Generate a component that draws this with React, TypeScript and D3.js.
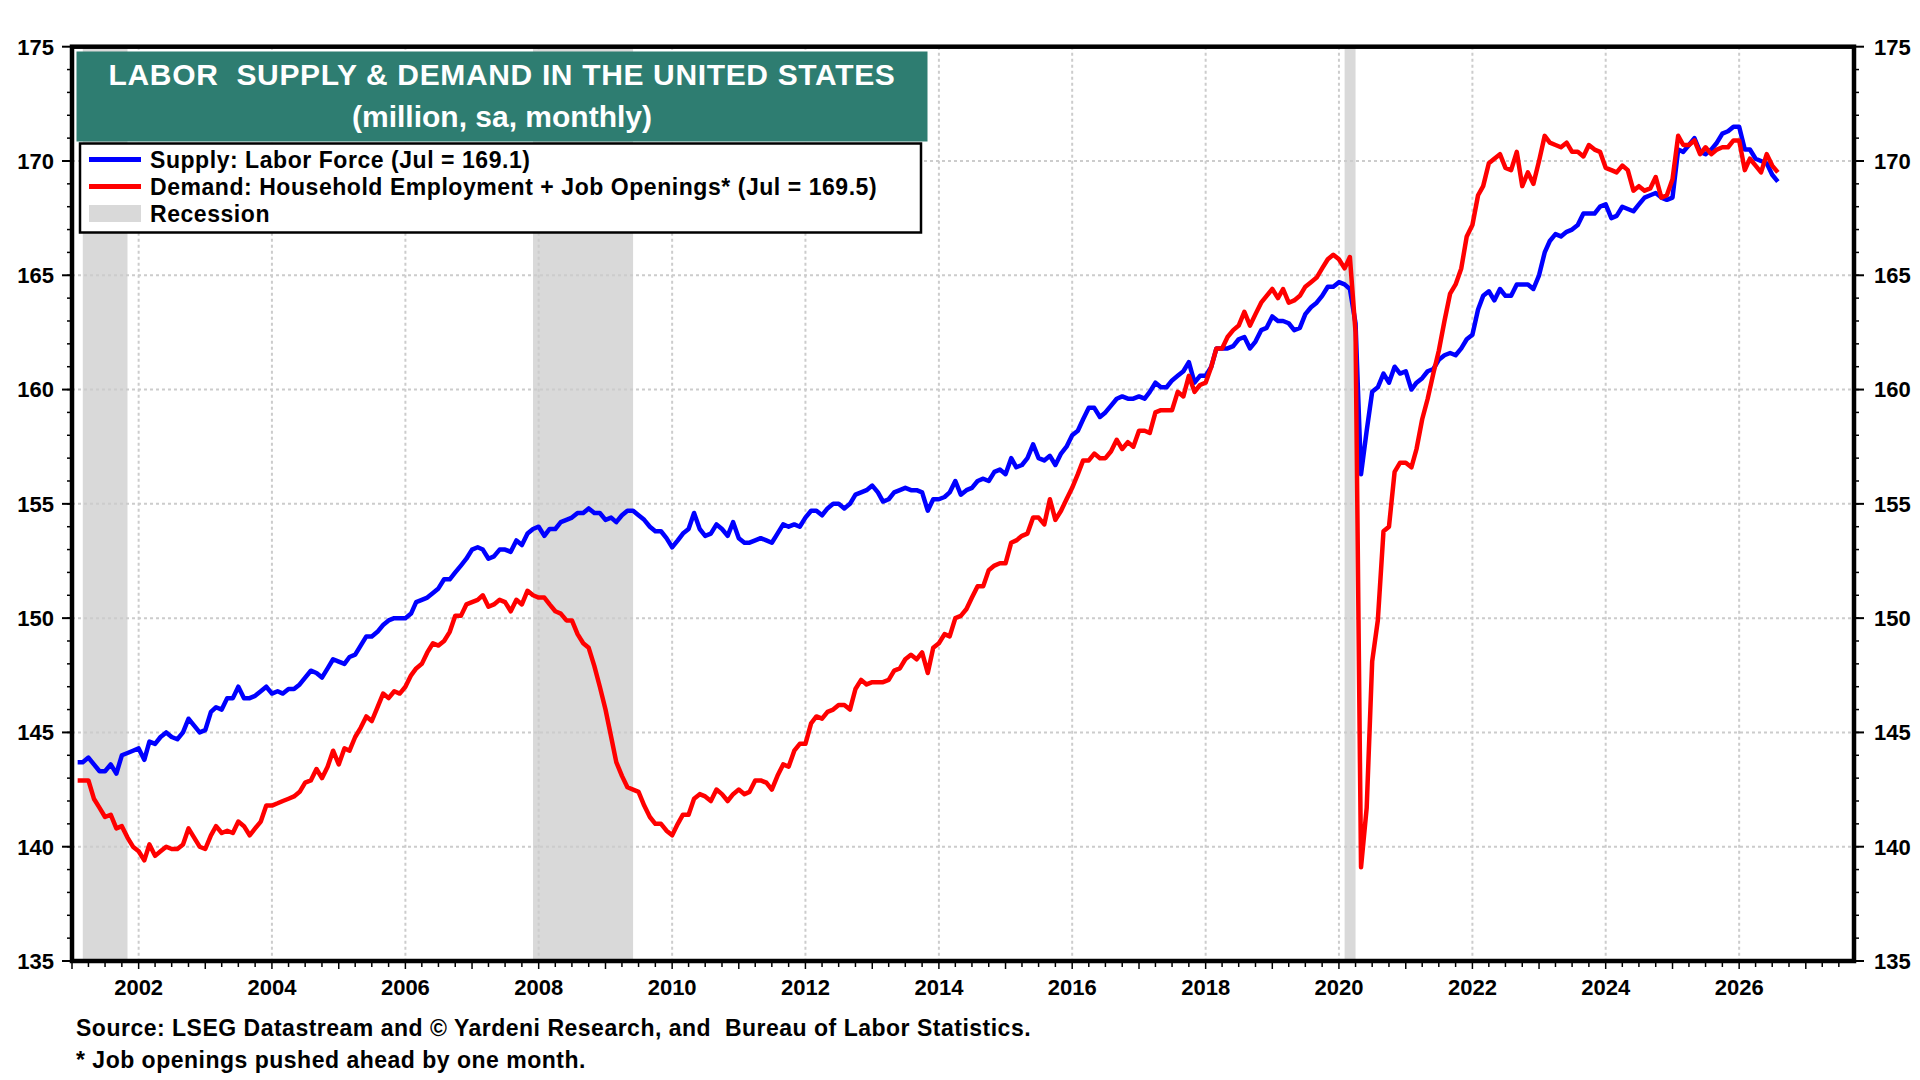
import { useEffect, useRef } from "react";
import * as d3 from "d3";

// monthly series, first value = Jan 2001, last value = Jul 2026
const supply: number[] = [
  143.7, 143.7, 143.9, 143.6, 143.3, 143.3, 143.6, 143.2, 144.0, 144.1, 144.2, 144.3, // 2001
  143.8, 144.6, 144.5, 144.8, 145.0, 144.8, 144.7, 145.0, 145.6, 145.3, 145.0, 145.1, // 2002
  145.9, 146.1, 146.0, 146.5, 146.5, 147.0, 146.5, 146.5, 146.6, 146.8, 147.0, 146.7, // 2003
  146.8, 146.7, 146.9, 146.9, 147.1, 147.4, 147.7, 147.6, 147.4, 147.8, 148.2, 148.1, // 2004
  148.0, 148.3, 148.4, 148.8, 149.2, 149.2, 149.4, 149.7, 149.9, 150.0, 150.0, 150.0, // 2005
  150.2, 150.7, 150.8, 150.9, 151.1, 151.3, 151.7, 151.7, 152.0, 152.3, 152.6, 153.0, // 2006
  153.1, 153.0, 152.6, 152.7, 153.0, 153.0, 152.9, 153.4, 153.2, 153.7, 153.9, 154.0, // 2007
  153.6, 153.9, 153.9, 154.2, 154.3, 154.4, 154.6, 154.6, 154.8, 154.6, 154.6, 154.3, // 2008
  154.4, 154.2, 154.5, 154.7, 154.7, 154.5, 154.3, 154.0, 153.8, 153.8, 153.5, 153.1, // 2009
  153.4, 153.7, 153.9, 154.6, 153.9, 153.6, 153.7, 154.1, 153.9, 153.6, 154.2, 153.5, // 2010
  153.3, 153.3, 153.4, 153.5, 153.4, 153.3, 153.7, 154.1, 154.0, 154.1, 154.0, 154.4, // 2011
  154.7, 154.7, 154.5, 154.8, 155.0, 155.0, 154.8, 155.0, 155.4, 155.5, 155.6, 155.8, // 2012
  155.5, 155.1, 155.2, 155.5, 155.6, 155.7, 155.6, 155.6, 155.5, 154.7, 155.2, 155.2, // 2013
  155.3, 155.5, 156.0, 155.4, 155.6, 155.7, 156.0, 156.1, 156.0, 156.4, 156.5, 156.3, // 2014
  157.0, 156.6, 156.7, 157.0, 157.6, 157.0, 156.9, 157.1, 156.7, 157.2, 157.5, 158.0, // 2015
  158.2, 158.7, 159.2, 159.2, 158.8, 159.0, 159.3, 159.6, 159.7, 159.6, 159.6, 159.7, // 2016
  159.6, 159.9, 160.3, 160.1, 160.1, 160.4, 160.6, 160.8, 161.2, 160.3, 160.6, 160.6, // 2017
  161.0, 161.8, 161.8, 161.8, 161.9, 162.2, 162.3, 161.8, 162.1, 162.6, 162.7, 163.2, // 2018
  163.0, 163.0, 162.9, 162.6, 162.7, 163.3, 163.6, 163.8, 164.1, 164.5, 164.5, 164.7, // 2019
  164.6, 164.4, 162.9, 156.3, 158.2, 159.9, 160.1, 160.7, 160.3, 161.0, 160.7, 160.8, // 2020
  160.0, 160.3, 160.5, 160.8, 160.9, 161.3, 161.5, 161.6, 161.5, 161.8, 162.2, 162.4, // 2021
  163.5, 164.1, 164.3, 163.9, 164.4, 164.1, 164.1, 164.6, 164.6, 164.6, 164.4, 165.0, // 2022
  166.0, 166.5, 166.8, 166.7, 166.9, 167.0, 167.2, 167.7, 167.7, 167.7, 168.0, 168.1, // 2023
  167.5, 167.6, 168.0, 167.9, 167.8, 168.1, 168.4, 168.5, 168.6, 168.4, 168.3, 168.4, // 2024
  170.5, 170.4, 170.7, 171.0, 170.4, 170.3, 170.5, 170.8, 171.2, 171.3, 171.5, 171.5, // 2025
  170.5, 170.5, 170.1, 170.0, 169.9, 169.4, 169.1 // 2026
];

const demand: number[] = [
  142.9, 142.9, 142.9, 142.1, 141.7, 141.3, 141.4, 140.8, 140.9, 140.4, 140.0, 139.8, // 2001
  139.4, 140.1, 139.6, 139.8, 140.0, 139.9, 139.9, 140.1, 140.8, 140.4, 140.0, 139.9, // 2002
  140.5, 140.9, 140.6, 140.7, 140.6, 141.1, 140.9, 140.5, 140.8, 141.1, 141.8, 141.8, // 2003
  141.9, 142.0, 142.1, 142.2, 142.4, 142.8, 142.9, 143.4, 143.0, 143.5, 144.2, 143.6, // 2004
  144.3, 144.2, 144.8, 145.2, 145.7, 145.5, 146.1, 146.7, 146.5, 146.8, 146.7, 147.0, // 2005
  147.5, 147.8, 148.0, 148.5, 148.9, 148.8, 149.0, 149.4, 150.1, 150.1, 150.6, 150.7, // 2006
  150.8, 151.0, 150.5, 150.6, 150.8, 150.7, 150.3, 150.8, 150.6, 151.2, 151.0, 150.9, // 2007
  150.9, 150.6, 150.3, 150.2, 149.9, 149.9, 149.3, 148.9, 148.7, 147.9, 147.0, 146.0, // 2008
  144.8, 143.7, 143.1, 142.6, 142.5, 142.4, 141.8, 141.3, 141.0, 141.0, 140.7, 140.5, // 2009
  141.0, 141.4, 141.4, 142.1, 142.3, 142.2, 142.0, 142.5, 142.3, 142.0, 142.3, 142.5, // 2010
  142.3, 142.4, 142.9, 142.9, 142.8, 142.5, 143.1, 143.6, 143.5, 144.2, 144.5, 144.5, // 2011
  145.4, 145.7, 145.6, 145.9, 146.0, 146.2, 146.2, 146.0, 146.9, 147.3, 147.1, 147.2, // 2012
  147.2, 147.2, 147.3, 147.7, 147.8, 148.2, 148.4, 148.2, 148.5, 147.6, 148.7, 148.9, // 2013
  149.3, 149.2, 150.0, 150.1, 150.4, 150.9, 151.4, 151.4, 152.1, 152.3, 152.4, 152.4, // 2014
  153.3, 153.4, 153.6, 153.7, 154.4, 154.4, 154.1, 155.2, 154.3, 154.7, 155.2, 155.7, // 2015
  156.3, 156.9, 156.9, 157.2, 157.0, 157.0, 157.3, 157.8, 157.4, 157.7, 157.5, 158.2, // 2016
  158.2, 158.1, 159.0, 159.1, 159.1, 159.1, 159.9, 159.7, 160.6, 159.9, 160.2, 160.3, // 2017
  161.0, 161.8, 161.8, 162.3, 162.6, 162.8, 163.4, 162.8, 163.3, 163.8, 164.1, 164.4, // 2018
  164.0, 164.4, 163.8, 163.9, 164.1, 164.5, 164.7, 164.9, 165.3, 165.7, 165.9, 165.7, // 2019
  165.3, 165.8, 162.5, 139.1, 141.7, 148.1, 149.9, 153.8, 154.0, 156.4, 156.8, 156.8, // 2020
  156.6, 157.4, 158.7, 159.6, 160.7, 161.7, 163.0, 164.2, 164.6, 165.3, 166.7, 167.2, // 2021
  168.5, 168.9, 169.9, 170.1, 170.3, 169.7, 169.6, 170.4, 168.9, 169.5, 169.0, 170.0, // 2022
  171.1, 170.8, 170.7, 170.6, 170.8, 170.4, 170.4, 170.2, 170.7, 170.5, 170.4, 169.7, // 2023
  169.6, 169.5, 169.8, 169.6, 168.7, 168.9, 168.7, 168.8, 169.3, 168.4, 168.5, 169.2, // 2024
  171.1, 170.7, 170.7, 170.9, 170.3, 170.6, 170.3, 170.5, 170.6, 170.6, 170.9, 170.9, // 2025
  169.6, 170.1, 169.8, 169.5, 170.3, 169.8, 169.5 // 2026
];

const recessions: [string, string][] = [
  ["2001-03-01", "2001-11-01"],
  ["2007-12-01", "2009-06-01"],
  ["2020-02-01", "2020-04-01"]
];

const yMajorTicks = [135, 140, 145, 150, 155, 160, 165, 170, 175];
const yearLabels = [2002, 2004, 2006, 2008, 2010, 2012, 2014, 2016, 2018, 2020, 2022, 2024, 2026];

const legendItems = [
  { label: "Supply: Labor Force (Jul = 169.1)", color: "#0000ff", kind: "line" },
  { label: "Demand: Household Employment + Job Openings* (Jul = 169.5)", color: "#ff0000", kind: "line" },
  { label: "Recession", color: "#d9d9d9", kind: "box" }
];

const FONT = "'Liberation Sans', Arial, Helvetica, sans-serif";

function parseDay(text: string): Date {
  const [y, m, d] = text.split("-").map(Number);
  return new Date(y, m - 1, d);
}

export default function App(): JSX.Element {
  const svgRef = useRef<SVGSVGElement | null>(null);

  useEffect(() => {
    const svg = d3.select(svgRef.current);
    svg.selectAll("*").remove();

    const left = 72;
    const right = 1854;
    const top = 46.7;
    const bottom = 961;

    const x = d3
      .scaleTime()
      .domain([new Date(2001, 0, 1), new Date(2027, 8, 22)])
      .range([left, right]);
    const y = d3.scaleLinear().domain([135, 175]).range([bottom, top]);

    // each monthly value is plotted at the end of its month
    const start = new Date(2001, 0, 1);
    const dateAt = (i: number) => d3.timeMonth.offset(start, i + 1);

    svg.append("rect").attr("width", 1920).attr("height", 1080).attr("fill", "#ffffff");

    // recession shading
    svg
      .append("g")
      .selectAll("rect")
      .data(recessions)
      .join("rect")
      .attr("x", (r) => x(parseDay(r[0])))
      .attr("y", top)
      .attr("width", (r) => x(parseDay(r[1])) - x(parseDay(r[0])))
      .attr("height", bottom - top)
      .attr("fill", "#d9d9d9");

    // grid
    const grid = svg.append("g").attr("stroke", "#cccccc").attr("stroke-width", 2).attr("stroke-dasharray", "3,3");
    grid
      .selectAll("line.h")
      .data(yMajorTicks.filter((v) => v > 135 && v < 175))
      .join("line")
      .attr("x1", left)
      .attr("x2", right)
      .attr("y1", (v) => y(v))
      .attr("y2", (v) => y(v));
    grid
      .selectAll("line.v")
      .data(yearLabels)
      .join("line")
      .attr("x1", (yr) => x(new Date(yr, 0, 1)))
      .attr("x2", (yr) => x(new Date(yr, 0, 1)))
      .attr("y1", top)
      .attr("y2", bottom);

    // series
    const line = d3
      .line<number>()
      .x((_, i) => x(dateAt(i)))
      .y((v) => y(v));

    svg
      .append("path")
      .datum(supply)
      .attr("d", line)
      .attr("fill", "none")
      .attr("stroke", "#0000ff")
      .attr("stroke-width", 4.5)
      .attr("stroke-linejoin", "round");
    svg
      .append("path")
      .datum(demand)
      .attr("d", line)
      .attr("fill", "none")
      .attr("stroke", "#ff0000")
      .attr("stroke-width", 4.5)
      .attr("stroke-linejoin", "round");

    // ticks
    const ticks = svg.append("g").attr("stroke", "#000000").attr("stroke-width", 1.5);
    const yMinor = d3.range(136, 175);
    ticks
      .selectAll("line.ym")
      .data(yMinor)
      .join("line")
      .attr("x1", left - 5)
      .attr("x2", left)
      .attr("y1", (v) => y(v))
      .attr("y2", (v) => y(v));
    ticks
      .selectAll("line.yr")
      .data(yMinor)
      .join("line")
      .attr("x1", right)
      .attr("x2", right + 5)
      .attr("y1", (v) => y(v))
      .attr("y2", (v) => y(v));
    ticks
      .selectAll("line.yM")
      .data(yMajorTicks)
      .join("line")
      .attr("x1", left - 10)
      .attr("x2", left)
      .attr("y1", (v) => y(v))
      .attr("y2", (v) => y(v))
      .attr("stroke-width", 2);
    ticks
      .selectAll("line.yMr")
      .data(yMajorTicks)
      .join("line")
      .attr("x1", right)
      .attr("x2", right + 10)
      .attr("y1", (v) => y(v))
      .attr("y2", (v) => y(v))
      .attr("stroke-width", 2);

    const quarters = d3.timeMonth.every(3)!.range(new Date(2001, 0, 1), x.domain()[1]);
    ticks
      .selectAll("line.q")
      .data(quarters)
      .join("line")
      .attr("x1", (d) => x(d))
      .attr("x2", (d) => x(d))
      .attr("y1", bottom)
      .attr("y2", (d) => bottom + (d.getMonth() === 0 ? 8 : 6));

    // frame
    svg
      .append("rect")
      .attr("x", left)
      .attr("y", top)
      .attr("width", right - left)
      .attr("height", bottom - top)
      .attr("fill", "none")
      .attr("stroke", "#000000")
      .attr("stroke-width", 4.5);

    const labels = svg
      .append("g")
      .attr("font-family", FONT)
      .attr("font-weight", "bold")
      .attr("font-size", 22)
      .attr("fill", "#000000");

    labels
      .selectAll("text.yl")
      .data(yMajorTicks)
      .join("text")
      .attr("x", 54)
      .attr("y", (v) => y(v))
      .attr("dy", "0.36em")
      .attr("text-anchor", "end")
      .text((v) => String(v));
    labels
      .selectAll("text.yr")
      .data(yMajorTicks)
      .join("text")
      .attr("x", 1874)
      .attr("y", (v) => y(v))
      .attr("dy", "0.36em")
      .attr("text-anchor", "start")
      .text((v) => String(v));
    labels
      .selectAll("text.xl")
      .data(yearLabels)
      .join("text")
      .attr("x", (yr) => x(new Date(yr, 0, 1)))
      .attr("y", 995)
      .attr("text-anchor", "middle")
      .text((yr) => String(yr));

    // title box
    svg
      .append("rect")
      .attr("x", 76.5)
      .attr("y", 51.5)
      .attr("width", 851)
      .attr("height", 90)
      .attr("fill", "#2e7d71");
    const title = svg
      .append("g")
      .attr("font-family", FONT)
      .attr("font-weight", "bold")
      .attr("font-size", 30)
      .attr("fill", "#ffffff")
      .attr("text-anchor", "middle");
    title
      .append("text")
      .attr("x", 502)
      .attr("y", 85)
      .attr("letter-spacing", 0.65)
      .style("white-space", "pre")
      .text("LABOR  SUPPLY & DEMAND IN THE UNITED STATES");
    title.append("text").attr("x", 502).attr("y", 126.5).text("(million, sa, monthly)");

    // legend
    svg
      .append("rect")
      .attr("x", 80)
      .attr("y", 143.5)
      .attr("width", 841)
      .attr("height", 89)
      .attr("fill", "#ffffff")
      .attr("stroke", "#000000")
      .attr("stroke-width", 2.5);
    const legend = svg
      .append("g")
      .selectAll("g")
      .data(legendItems)
      .join("g")
      .attr("transform", (_, i) => `translate(0, ${159.5 + i * 27})`);
    legend.each(function (item) {
      const g = d3.select(this);
      if (item.kind === "line") {
        g.append("line")
          .attr("x1", 89)
          .attr("x2", 141)
          .attr("y1", 0)
          .attr("y2", 0)
          .attr("stroke", item.color)
          .attr("stroke-width", 5);
      } else {
        g.append("rect").attr("x", 89).attr("y", -8.5).attr("width", 52).attr("height", 17).attr("fill", item.color);
      }
      g.append("text")
        .attr("x", 150)
        .attr("y", 0)
        .attr("dy", "0.36em")
        .attr("font-family", FONT)
        .attr("font-weight", "bold")
        .attr("font-size", 23)
        .attr("letter-spacing", 0.55)
        .attr("fill", "#000000")
        .text(item.label);
    });

    // footer
    const footer = svg
      .append("g")
      .attr("font-family", FONT)
      .attr("font-weight", "bold")
      .attr("font-size", 23)
      .attr("letter-spacing", 0.5)
      .attr("fill", "#000000");
    footer
      .append("text")
      .attr("x", 76)
      .attr("y", 1036)
      .style("white-space", "pre")
      .text("Source: LSEG Datastream and \u00a9 Yardeni Research, and  Bureau of Labor Statistics.");
    footer.append("text").attr("x", 76).attr("y", 1068).text("* Job openings pushed ahead by one month.");
  }, []);

  return (
    <svg
      ref={svgRef}
      width={1920}
      height={1080}
      viewBox="0 0 1920 1080"
      style={{ position: "absolute", left: 0, top: 0, display: "block" }}
    />
  );
}
